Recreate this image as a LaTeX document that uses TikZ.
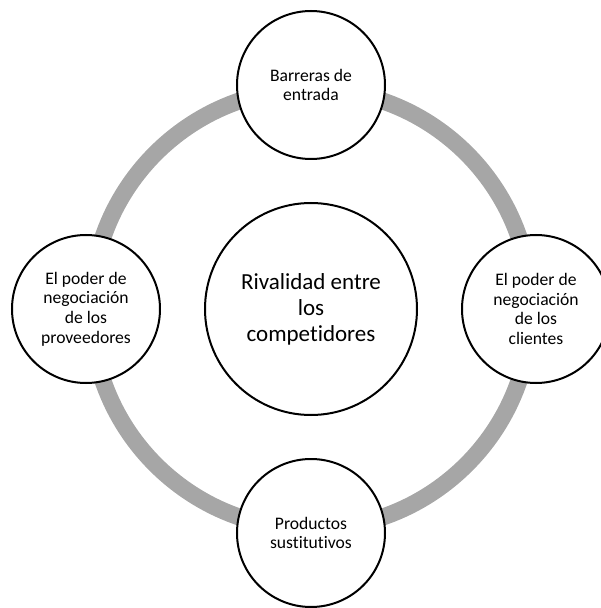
\documentclass[tikz,border=0pt]{standalone}
\usepackage{fontspec}
\setmainfont{Carlito}[Ligatures={NoCommon}]
\usepackage{tikz}
\usetikzlibrary{positioning}
\definecolor{ringgray}{RGB}{166,166,166}
\tikzset{
	force/.style={shape=circle,draw,line width=2pt,fill=white,minimum size=148pt,inner sep=0pt,align=center,font=\fontsize{17.6}{19.7}\selectfont},
	rivalry/.style={force,minimum size=212pt,font=\fontsize{23}{26}\selectfont},
	ring/.style={draw=ringgray,line width=17pt}
}
\newcommand{\drawforce}[3]{
	\node #1 (#2) [force] {#3};
}

\begin{document}
\begin{tikzpicture}[x=1pt,y=1pt]
	\useasboundingbox (-311,-299) rectangle (290,309);
	% grey ring behind the five forces
	\coordinate (c) at (0,0);
	\draw[ring] (c) circle[radius=220pt];
	\node (rival) at (c) [rivalry] {Rivalidad entre\\los\\competidores};
	\drawforce{at (0,224)}{entry}{Barreras de\\entrada};
	\drawforce{at (-225,0)}{suppliers}{El poder de\\negociación\\de los\\proveedores};
	\drawforce{at (225,0)}{buyers}{El poder de\\negociación\\de los\\clientes};
	\drawforce{at (0,-224)}{substitutes}{Productos\\sustitutivos};
\end{tikzpicture}
\end{document}
